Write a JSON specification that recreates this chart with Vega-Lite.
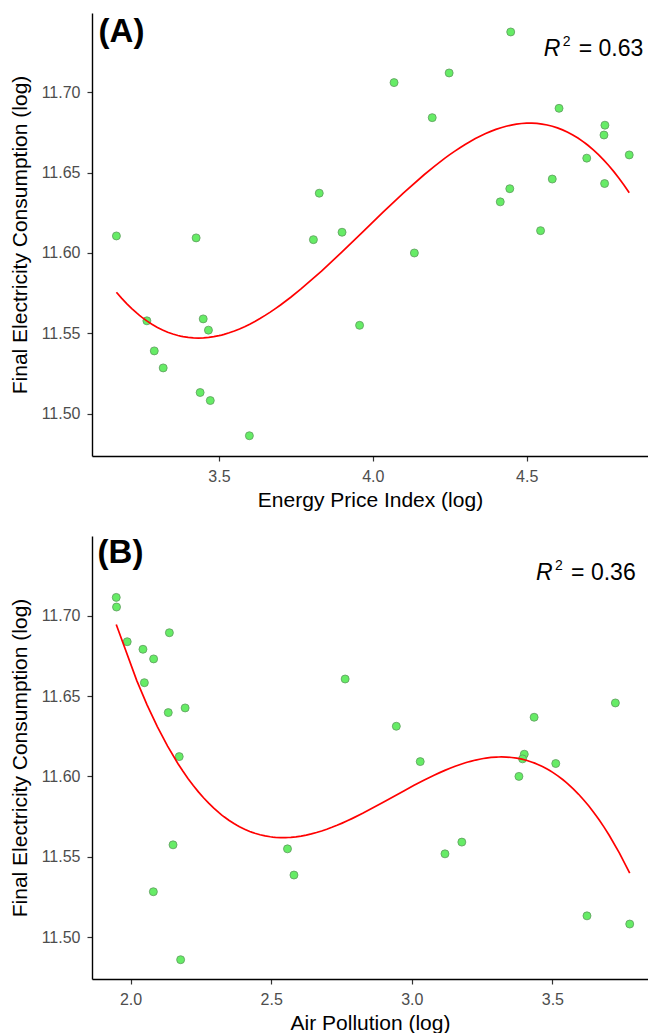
{
  "$schema": "https://vega.github.io/schema/vega-lite/v6.json",
  "autosize": {"type": "pad"},
  "padding": {"left": 9, "top": 13, "right": 0, "bottom": 0},
  "background": "white",
  "spacing": 80,
  "bounds": "flush",
  "config": {
    "view": {"stroke": null},
    "font": "Liberation Sans",
    "axis": {
      "grid": false,
      "domainColor": "#000000",
      "domainWidth": 1.4,
      "tickColor": "#333333",
      "tickWidth": 1.2,
      "tickSize": 5,
      "labelColor": "#4d4d4d",
      "labelFont": "Liberation Sans",
      "labelFontSize": 16,
      "labelPadding": 7,
      "titleFont": "Liberation Sans",
      "titleFontSize": 21,
      "titleFontWeight": "normal",
      "titleColor": "#000000"
    }
  },
  "datasets": {
    "price": [
      {"price": 3.167, "consumption": 11.6106},
      {"price": 3.426, "consumption": 11.6094},
      {"price": 3.807, "consumption": 11.6083},
      {"price": 3.826, "consumption": 11.6372},
      {"price": 4.448, "consumption": 11.7375},
      {"price": 4.069, "consumption": 11.7060},
      {"price": 4.248, "consumption": 11.7120},
      {"price": 4.193, "consumption": 11.6842},
      {"price": 4.605, "consumption": 11.6900},
      {"price": 4.754, "consumption": 11.6795},
      {"price": 4.751, "consumption": 11.6734},
      {"price": 4.695, "consumption": 11.6590},
      {"price": 4.833, "consumption": 11.6610},
      {"price": 4.445, "consumption": 11.6400},
      {"price": 4.583, "consumption": 11.6460},
      {"price": 4.753, "consumption": 11.6432},
      {"price": 4.414, "consumption": 11.6318},
      {"price": 4.545, "consumption": 11.6139},
      {"price": 3.900, "consumption": 11.6129},
      {"price": 4.135, "consumption": 11.6000},
      {"price": 3.957, "consumption": 11.5550},
      {"price": 3.266, "consumption": 11.5578},
      {"price": 3.449, "consumption": 11.5590},
      {"price": 3.466, "consumption": 11.5520},
      {"price": 3.290, "consumption": 11.5391},
      {"price": 3.319, "consumption": 11.5285},
      {"price": 3.439, "consumption": 11.5132},
      {"price": 3.472, "consumption": 11.5082},
      {"price": 3.599, "consumption": 11.4863}
    ],
    "pollution": [
      {"pollution": 1.949, "consumption": 11.7114},
      {"pollution": 1.950, "consumption": 11.7054},
      {"pollution": 1.988, "consumption": 11.6838},
      {"pollution": 2.044, "consumption": 11.6791},
      {"pollution": 2.082, "consumption": 11.6731},
      {"pollution": 2.138, "consumption": 11.6894},
      {"pollution": 2.049, "consumption": 11.6583},
      {"pollution": 2.134, "consumption": 11.6397},
      {"pollution": 2.194, "consumption": 11.6426},
      {"pollution": 2.173, "consumption": 11.6123},
      {"pollution": 2.763, "consumption": 11.6606},
      {"pollution": 3.724, "consumption": 11.6457},
      {"pollution": 3.435, "consumption": 11.6368},
      {"pollution": 2.945, "consumption": 11.6312},
      {"pollution": 3.030, "consumption": 11.6092},
      {"pollution": 3.400, "consumption": 11.6138},
      {"pollution": 3.394, "consumption": 11.6109},
      {"pollution": 3.512, "consumption": 11.6080},
      {"pollution": 3.381, "consumption": 11.6000},
      {"pollution": 2.151, "consumption": 11.5574},
      {"pollution": 2.558, "consumption": 11.5549},
      {"pollution": 2.581, "consumption": 11.5386},
      {"pollution": 2.081, "consumption": 11.5282},
      {"pollution": 2.178, "consumption": 11.4859},
      {"pollution": 3.118, "consumption": 11.5518},
      {"pollution": 3.178, "consumption": 11.5591},
      {"pollution": 3.623, "consumption": 11.5132},
      {"pollution": 3.775, "consumption": 11.5081}
    ]
  },
  "vconcat": [
    {
      "width": 556,
      "height": 443,
      "layer": [
        {
          "data": {"name": "price"},
          "mark": {"type": "point", "filled": true, "shape": "circle", "size": 64, "fill": "#66ec66", "stroke": "#5e9a5e", "strokeWidth": 0.8, "opacity": 1},
          "encoding": {
            "x": {
              "field": "price",
              "type": "quantitative",
              "title": "Energy Price Index (log)",
              "scale": {"domain": [3.0877, 4.894], "nice": false, "zero": false},
              "axis": {"values": [3.5, 4.0, 4.5], "format": ".1f", "titlePadding": 5}
            },
            "y": {
              "field": "consumption",
              "type": "quantitative",
              "title": "Final Electricity Consumption (log)",
              "scale": {"domain": [11.4737, 11.7493], "nice": false, "zero": false},
              "axis": {"values": [11.5, 11.55, 11.6, 11.65, 11.7], "format": ".2f", "titlePadding": 11}
            }
          }
        },
        {
          "data": {"name": "price"},
          "transform": [{"regression": "consumption", "on": "price", "method": "poly", "order": 3}],
          "mark": {"type": "line", "color": "#ff0000", "strokeWidth": 1.7},
          "encoding": {
            "x": {"field": "price", "type": "quantitative"},
            "y": {"field": "consumption", "type": "quantitative"}
          }
        },
        {
          "data": {"values": [{"label": "(A)"}]},
          "mark": {"type": "text", "align": "left", "baseline": "alphabetic", "fontSize": 33, "fontWeight": "bold", "color": "#000000"},
          "encoding": {"x": {"datum": 3.109}, "y": {"datum": 11.7313}, "text": {"field": "label"}}
        },
        {
          "data": {"values": [{"label": "R"}]},
          "mark": {"type": "text", "align": "left", "baseline": "alphabetic", "fontSize": 23, "fontStyle": "italic", "color": "#000000"},
          "encoding": {"x": {"datum": 4.555}, "y": {"datum": 11.7226}, "text": {"field": "label"}}
        },
        {
          "data": {"values": [{"label": "2"}]},
          "mark": {"type": "text", "align": "left", "baseline": "alphabetic", "fontSize": 14, "dx": 19, "dy": -10, "color": "#000000"},
          "encoding": {"x": {"datum": 4.555}, "y": {"datum": 11.7226}, "text": {"field": "label"}}
        },
        {
          "data": {"values": [{"label": "= 0.63"}]},
          "mark": {"type": "text", "align": "left", "baseline": "alphabetic", "fontSize": 23, "dx": 35, "color": "#000000"},
          "encoding": {"x": {"datum": 4.555}, "y": {"datum": 11.7226}, "text": {"field": "label"}}
        }
      ]
    },
    {
      "width": 556,
      "height": 443,
      "layer": [
        {
          "data": {"name": "pollution"},
          "mark": {"type": "point", "filled": true, "shape": "circle", "size": 64, "fill": "#66ec66", "stroke": "#5e9a5e", "strokeWidth": 0.8, "opacity": 1},
          "encoding": {
            "x": {
              "field": "pollution",
              "type": "quantitative",
              "title": "Air Pollution (log)",
              "scale": {"domain": [1.8628, 3.84], "nice": false, "zero": false},
              "axis": {"values": [2.0, 2.5, 3.0, 3.5], "format": ".1f", "titlePadding": 5}
            },
            "y": {
              "field": "consumption",
              "type": "quantitative",
              "title": "Final Electricity Consumption (log)",
              "scale": {"domain": [11.4739, 11.7496], "nice": false, "zero": false},
              "axis": {"values": [11.5, 11.55, 11.6, 11.65, 11.7], "format": ".2f", "titlePadding": 11}
            }
          }
        },
        {
          "data": {"name": "pollution"},
          "transform": [{"regression": "consumption", "on": "pollution", "method": "poly", "order": 3}],
          "mark": {"type": "line", "color": "#ff0000", "strokeWidth": 1.7},
          "encoding": {
            "x": {"field": "pollution", "type": "quantitative"},
            "y": {"field": "consumption", "type": "quantitative"}
          }
        },
        {
          "data": {"values": [{"label": "(B)"}]},
          "mark": {"type": "text", "align": "left", "baseline": "alphabetic", "fontSize": 33, "fontWeight": "bold", "color": "#000000"},
          "encoding": {"x": {"datum": 1.8827}, "y": {"datum": 11.7326}, "text": {"field": "label"}}
        },
        {
          "data": {"values": [{"label": "R"}]},
          "mark": {"type": "text", "align": "left", "baseline": "alphabetic", "fontSize": 23, "fontStyle": "italic", "color": "#000000"},
          "encoding": {"x": {"datum": 3.442}, "y": {"datum": 11.7222}, "text": {"field": "label"}}
        },
        {
          "data": {"values": [{"label": "2"}]},
          "mark": {"type": "text", "align": "left", "baseline": "alphabetic", "fontSize": 14, "dx": 19, "dy": -10, "color": "#000000"},
          "encoding": {"x": {"datum": 3.442}, "y": {"datum": 11.7222}, "text": {"field": "label"}}
        },
        {
          "data": {"values": [{"label": "= 0.36"}]},
          "mark": {"type": "text", "align": "left", "baseline": "alphabetic", "fontSize": 23, "dx": 35, "color": "#000000"},
          "encoding": {"x": {"datum": 3.442}, "y": {"datum": 11.7222}, "text": {"field": "label"}}
        }
      ]
    }
  ]
}
